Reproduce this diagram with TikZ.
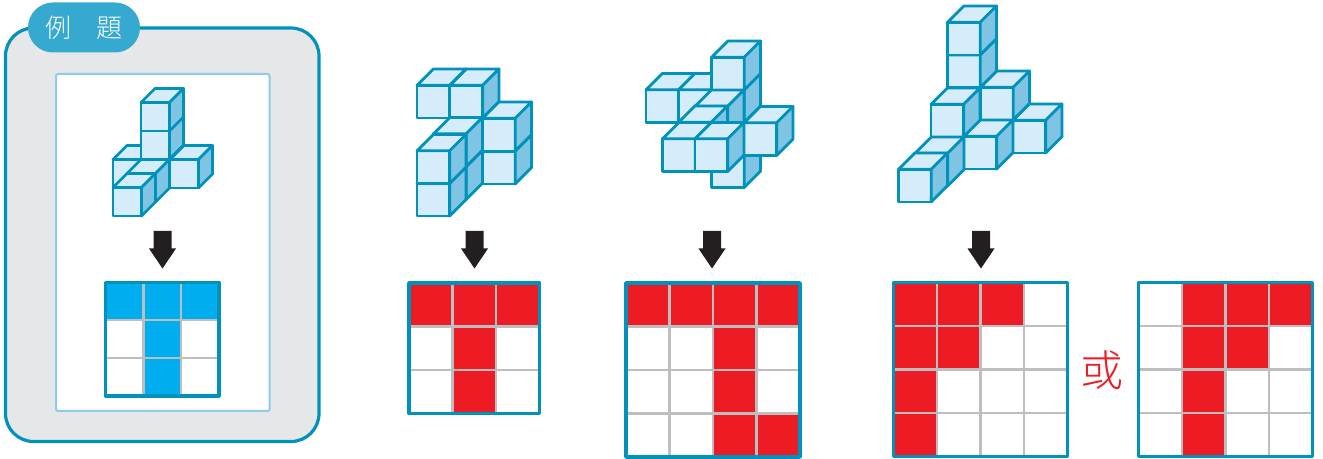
\documentclass[tikz,border=0pt]{standalone}
\usepackage{xcolor}
\usepackage{fontspec}
\newfontfamily\cjk[UprightFont=* Light]{Noto Sans CJK TC}
\definecolor{trait}{HTML}{0092BA}
\definecolor{avant}{HTML}{D5EDFA}
\definecolor{cote}{HTML}{80C4E3}
\definecolor{panneau}{HTML}{E6E7E8}
\definecolor{liseret}{HTML}{8FCCE7}
\definecolor{pastille}{HTML}{36A9D0}
\definecolor{gris}{HTML}{BCBEC0}
\definecolor{bleu}{HTML}{00AEEF}
\definecolor{rouge}{HTML}{ED1C24}
\definecolor{noir}{HTML}{231F20}

\begin{document}
\begin{tikzpicture}[x=0.5pt,y=-0.5pt]
    % Styles
    \tikzstyle{arete}=[draw=trait,line width=1.4pt,line join=round]
    \tikzstyle{face}=[arete,fill=avant]
    \tikzstyle{flanc}=[arete,fill=cote]
    \tikzstyle{quadrillage}=[draw=gris,line width=1.2pt]
    \tikzstyle{cadre}=[draw=trait,line width=1.8pt,line join=round]
    \tikzstyle{fleche}=[fill=noir]
    % Dimensions
    \def\Arete{32.7}
    \def\Biais{16.3}
    % Un petit cube
    \def\Cube#1#2{
        \path[face] ({#1},{#2}) rectangle ++(\Arete,-\Arete);
        \path[face] ({#1},{#2-\Arete}) -- ++(\Biais,-\Biais) -- ++(\Arete,0) -- ++(-\Biais,\Biais) -- cycle;
        \path[flanc] ({#1+\Arete},{#2}) -- ++(\Biais,-\Biais) -- ++(0,-\Arete) -- ++(-\Biais,\Biais) -- cycle;
    }
    % Une grille : x, y, colonnes, lignes, cote, couleur, cases
    \def\Grille#1#2#3#4#5#6#7{
        \foreach \cc/\ll in {#7}
            \fill[#6] ({#1+\cc*#5},{#2+\ll*#5}) rectangle ++(#5,#5);
        \foreach \nn in {0,...,#3}
            \draw[quadrillage] ({#1+\nn*#5},#2) -- ++(0,{#4*#5});
        \foreach \nn in {0,...,#4}
            \draw[quadrillage] (#1,{#2+\nn*#5}) -- ++({#3*#5},0);
        \draw[cadre] (#1,#2) rectangle ++({#3*#5},{#4*#5});
    }
    % Une grosse fleche
    \def\Fleche#1{
        \fill[fleche] ({#1-9},231) -- ++(18,0) -- ++(0,17.5) -- ++(4.5,0) -- ({#1},268.5) -- ({#1-13.5},248.5) -- ++(4.5,0) -- cycle;
    }
    \useasboundingbox (0,0) rectangle (1323,459);
    % Exemple
    \draw[draw=trait,fill=panneau,line width=1.6pt,rounded corners=14pt] (5.5,28) rectangle (319,441.5);
    \draw[draw=liseret,fill=white,line width=1pt,rounded corners=1pt] (56,74) rectangle (269.5,411);
    \node[fill=pastille,text=white,rounded corners=12.5pt,minimum width=56pt,minimum height=25pt,inner sep=0pt,font=\cjk\fontsize{13pt}{13pt}\selectfont] (titre) at (84,27.5) {例　題};
    \node[text=rouge,inner sep=0pt,font=\cjk\fontsize{21.5pt}{21.5pt}\selectfont] (ou) at (1102,370) {或};
    \def\Arete{28.5}
    \def\Biais{14}
    \foreach \x/\y in {113/188,170/188,141/159,141/131,127/202,113/216}
        {\Cube{\x}{\y}}
    % Les trois solides
    \def\Arete{32.7}
    \def\Biais{16.3}
    \foreach \x/\y in {417/118,450/118,482.5/184,482.5/151,433.5/199.5,433.5/166.5,417/216,417/183.5}
        {\Cube{\x}{\y}}
    \foreach \x/\y in {646/122.5,678.5/122.5,711.5/187.5,711.5/155,711.5/122.5,711.5/90,744/155.5,695/139,678.5/155,662.5/171.5,695/171.5}
        {\Cube{\x}{\y}}
    \foreach \x/\y in {947.5/87.7,947.5/55,980.5/120,1013/153,931/137,964/169,915/186,898.5/202}
        {\Cube{\x}{\y}}
    % Fleches
    \foreach \x in {162.5,474.5,712,981}
        {\Fleche{\x}}
    % Grilles
    \Grille{105.5}{282.5}{3}{3}{37.8}{bleu}{0/0,1/0,2/0,1/1,1/2}
    \Grille{409}{283}{3}{3}{43.5}{rouge}{0/0,1/0,2/0,1/1,1/2}
    \Grille{626}{283}{4}{4}{43.5}{rouge}{0/0,1/0,2/0,3/0,2/1,2/2,2/3,3/3}
    \Grille{893.5}{282.5}{4}{4}{43.5}{rouge}{0/0,1/0,2/0,0/1,1/1,0/2,0/3}
    \Grille{1138.5}{282.5}{4}{4}{43.5}{rouge}{1/0,2/0,3/0,1/1,2/1,1/2,1/3}
\end{tikzpicture}
\end{document}
